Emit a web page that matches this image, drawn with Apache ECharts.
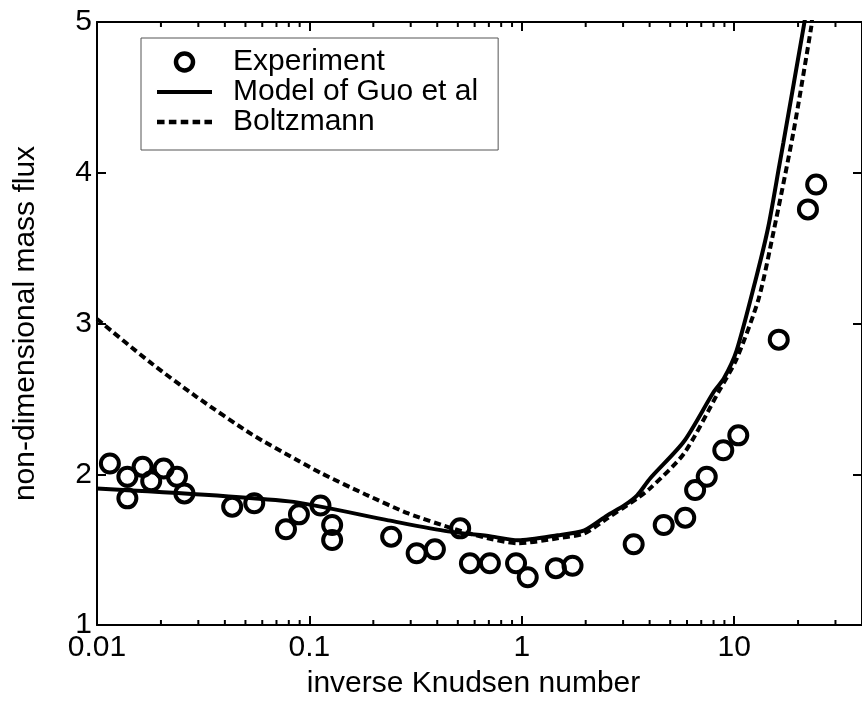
<!DOCTYPE html>
<html>
<head>
<meta charset="utf-8">
<script src="https://cdn.jsdelivr.net/npm/echarts@6/dist/echarts.min.js"></script>
<style>
html,body{margin:0;padding:0;background:#fff;}
#chart{width:862px;height:704px;}
</style>
</head>
<body>
<div id="chart"></div>
<script>
// ---- data ----
const xTickValues = [0.01, 0.1, 1, 10];
const xTickLabels = ['0.01', '0.1', '1', '10'];
const yTickValues = [1, 2, 3, 4, 5];
const xMinorTicks = [0.02,0.03,0.04,0.05,0.06,0.07,0.08,0.09,
                     0.2,0.3,0.4,0.5,0.6,0.7,0.8,0.9,
                     2,3,4,5,6,7,8,9,20,30];

const expX = [0.0115,0.0139,0.0139,0.0164,0.0180,0.0206,0.0238,0.0258,0.0433,0.0550,
              0.0776,0.0893,0.1128,0.128,0.128,0.2427,0.320,0.390,0.513,0.570,
              0.708,0.940,1.067,1.448,1.734,3.365,4.66,5.884,6.55,7.43,
              8.89,10.46,16.22,22.26,24.34];
const expY = [2.071,1.983,1.840,2.049,1.954,2.038,1.983,1.873,1.785,1.807,
              1.635,1.734,1.793,1.663,1.564,1.586,1.476,1.502,1.641,1.410,
              1.410,1.410,1.317,1.377,1.393,1.536,1.663,1.712,1.895,1.983,
              2.159,2.258,2.893,3.757,3.922];

const modelX = [0.01,0.0802,0.2355,0.45,0.716,0.958,1.474,1.972,2.528,3.037,3.494,4.02,5.80,8.02,8.93,10.27,12.75,14.5,16.33,17.06,21.38,21.6];
const modelY = [1.906,1.820,1.694,1.621,1.588,1.562,1.595,1.628,1.727,1.793,1.860,1.972,2.217,2.547,2.633,2.82,3.314,3.645,4.05,4.2,4.99,5.03];

const boltzX = [0.01,0.0177,0.0294,0.0538,0.0865,0.1144,0.1839,0.2923,0.4856,0.693,0.958,1.474,1.972,2.528,3.494,4.02,5.80,8.45,10.27,13.03,15.31,19.0,23.07,23.3];
const boltzY = [3.030,2.745,2.514,2.263,2.098,2.005,1.866,1.740,1.635,1.575,1.542,1.575,1.608,1.707,1.840,1.906,2.137,2.547,2.765,3.162,3.605,4.266,4.967,5.03];

const zip = (a, b) => a.map((v, i) => [v, b[i]]);

const FONT = 'Liberation Sans, Arial, sans-serif';
const chart = echarts.init(document.getElementById('chart'), null, {renderer: 'canvas'});

function xLabel(v) {
  for (let i = 0; i < xTickValues.length; i++) {
    if (Math.abs(Math.log10(v) - Math.log10(xTickValues[i])) < 1e-6) return xTickLabels[i];
  }
  return '';
}

const axisLineStyle = {color: '#000', width: 2};
const tickStyle = {color: '#000', width: 2};

chart.setOption({
  animation: false,
  backgroundColor: '#fff',
  textStyle: {fontFamily: FONT, color: '#000'},
  grid: {left: 97, top: 22, right: -4, bottom: 77},
  legend: {
    orient: 'vertical',
    left: 141, top: 38,
    padding: [9, 20, 13, 16],
    itemGap: 0,
    itemWidth: 55,
    itemHeight: 17,
    backgroundColor: '#fff',
    borderColor: '#555',
    borderWidth: 1,
    borderRadius: 0,
    textStyle: {fontFamily: FONT, fontSize: 30, color: '#000', lineHeight: 29.5, padding: [0, 0, 0, 16]},
    data: [
      {name: 'Experiment', icon: 'circle',
       itemStyle: {color: 'rgba(0,0,0,0)', borderColor: '#000', borderWidth: 4.5, opacity: 1}},
      {name: 'Model of Guo et al', icon: 'path://M0,0H55V4H0Z',
       itemStyle: {color: '#000', borderWidth: 0, opacity: 1}},
      {name: 'Boltzmann', icon: 'path://M0,0H7V4H0Z M11,0H18V4H11Z M22,0H29V4H22Z M33,0H40V4H33Z M44,0H51V4H44Z',
       itemStyle: {color: '#000', borderWidth: 0, opacity: 1}}
    ]
  },
  xAxis: [
    {
      type: 'log', logBase: 10, min: 0.01, max: 40, position: 'bottom',
      axisLine: {show: true, onZero: false, lineStyle: axisLineStyle},
      axisTick: {show: true, inside: true, length: 9, lineStyle: tickStyle},
      axisLabel: {fontFamily: FONT, fontSize: 30, color: '#000', margin: 8, formatter: xLabel, showMaxLabel: false},
      splitLine: {show: false},
      name: 'inverse Knudsen number', nameLocation: 'middle', nameGap: 44,
      nameTextStyle: {fontFamily: FONT, fontSize: 30, color: '#000', padding: [0, 12, 0, 0]}
    },
    {
      type: 'log', logBase: 10, min: 0.01, max: 40, position: 'top',
      axisLine: {show: true, onZero: false, lineStyle: axisLineStyle},
      axisTick: {show: true, inside: true, length: 9, lineStyle: tickStyle},
      axisLabel: {show: false},
      splitLine: {show: false}
    }
  ],
  yAxis: [
    {
      type: 'value', min: 1, max: 5, interval: 1, position: 'left',
      axisLine: {show: true, onZero: false, lineStyle: axisLineStyle},
      axisTick: {show: true, inside: true, length: 9, lineStyle: tickStyle},
      axisLabel: {fontFamily: FONT, fontSize: 30, color: '#000', margin: 5},
      splitLine: {show: false},
      name: 'non-dimensional mass flux', nameLocation: 'middle', nameGap: 56,
      nameTextStyle: {fontFamily: FONT, fontSize: 30, color: '#000'}
    },
    {
      type: 'value', min: 1, max: 5, interval: 1, position: 'right',
      axisLine: {show: true, onZero: false, lineStyle: axisLineStyle},
      axisTick: {show: true, inside: true, length: 9, lineStyle: tickStyle},
      axisLabel: {show: false},
      splitLine: {show: false}
    }
  ],
  series: [
    {
      name: 'minorTicks', type: 'custom', xAxisIndex: 0, yAxisIndex: 0,
      silent: true, clip: false, legendHoverLink: false,
      data: xMinorTicks.map(v => [v, 1]),
      renderItem: function (params, api) {
        const v = api.value(0);
        const pb = api.coord([v, 1]);
        const pt = api.coord([v, 5]);
        const st = {stroke: '#000', lineWidth: 2};
        return {
          type: 'group',
          children: [
            {type: 'line', shape: {x1: pb[0], y1: pb[1], x2: pb[0], y2: pb[1] - 5}, style: st},
            {type: 'line', shape: {x1: pt[0], y1: pt[1], x2: pt[0], y2: pt[1] + 5}, style: st}
          ]
        };
      }
    },
    {
      name: 'Model of Guo et al', type: 'line', data: zip(modelX, modelY),
      symbol: 'none', smooth: 0.25, clip: true,
      lineStyle: {color: '#000', width: 4, type: 'solid'},
      itemStyle: {color: '#000'}
    },
    {
      name: 'Boltzmann', type: 'line', data: zip(boltzX, boltzY),
      symbol: 'none', smooth: 0.25, clip: true,
      lineStyle: {color: '#000', width: 4, type: [7, 4]},
      itemStyle: {color: '#000'}
    },
    {
      name: 'Experiment', type: 'scatter', data: zip(expX, expY),
      symbol: 'circle', symbolSize: 18,
      itemStyle: {color: 'rgba(0,0,0,0)', borderColor: '#000', borderWidth: 4, opacity: 1},
      z: 5
    }
  ]
});
</script>
</body>
</html>
